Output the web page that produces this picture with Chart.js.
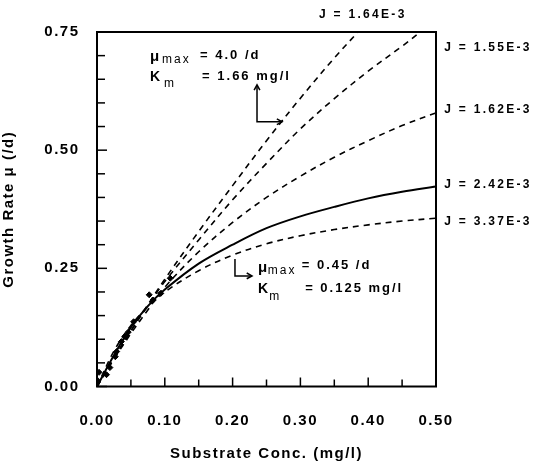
<!DOCTYPE html>
<html>
<head>
<meta charset="utf-8">
<script src="https://cdn.jsdelivr.net/npm/chart.js@4"></script>
<style>
  html, body { margin: 0; padding: 0; background: #fff; }
  canvas { display: block; }
</style>
</head>
<body>
<canvas id="myChart" width="534" height="467"></canvas>
<script>
// Substrate conc. (mg/l) sample points along each curve
const sFull = [0, 0.025, 0.05, 0.075, 0.1, 0.15, 0.2, 0.25, 0.3, 0.35, 0.4, 0.45, 0.5];
const sJ164 = [0, 0.025, 0.05, 0.075, 0.1, 0.15, 0.2, 0.25, 0.3, 0.35, 0.385];
const sJ155 = [0, 0.025, 0.05, 0.075, 0.1, 0.15, 0.2, 0.25, 0.3, 0.35, 0.4, 0.45, 0.477];

// Growth rate (/d) for each curve
const muJ164 = [0, 0.059, 0.117, 0.173, 0.227, 0.328, 0.425, 0.52, 0.61, 0.695, 0.75];
const muJ155 = [0, 0.061, 0.118, 0.171, 0.222, 0.31, 0.395, 0.472, 0.545, 0.609, 0.667, 0.72, 0.75];
const muJ162 = [0, 0.058, 0.112, 0.162, 0.21, 0.285, 0.347, 0.40, 0.445, 0.485, 0.52, 0.552, 0.579];
const muJ242 = [0, 0.066, 0.125, 0.17, 0.205, 0.26, 0.30, 0.335, 0.36, 0.38, 0.398, 0.412, 0.423];
const muJ337 = [0, 0.075, 0.129, 0.169, 0.2, 0.245, 0.278, 0.302, 0.319, 0.332, 0.342, 0.35, 0.356];

// measured points
const obsS  = [0.0, 0.003, 0.014, 0.019, 0.027, 0.029, 0.036, 0.041, 0.046, 0.054, 0.077, 0.083, 0.094, 0.108];
const obsMu = [0.014, 0.03, 0.025, 0.04, 0.063, 0.074, 0.095, 0.106, 0.115, 0.137, 0.194, 0.183, 0.197, 0.229];

// tick labels
const xLabelValues = [0, 0.1, 0.2, 0.3, 0.4, 0.5];
const yLabelValues = [0, 0.25, 0.5, 0.75];

// curve labels and where they sit (data units)
const curveLabels = ['J = 1.64E-3', 'J = 1.55E-3', 'J = 1.62E-3', 'J = 2.42E-3', 'J = 3.37E-3'];
const curveLabelS = [0.392, 0.512, 0.512, 0.512, 0.512];
const curveLabelMu = [0.786, 0.716, 0.585, 0.426, 0.348];

const FONT = '"Liberation Sans", Arial, sans-serif';

function pts(xs, ys) {
    return xs.map((x, i) => ({ x: x, y: ys[i] }));
}

function hasValue(list, v) {
    return list.some(t => Math.abs(t - v) < 1e-6);
}

function curve(xs, ys, dashed) {
    return {
        data: pts(xs, ys),
        showLine: true,
        borderColor: '#000',
        borderWidth: dashed ? 1.6 : 2,
        borderDash: dashed ? [6, 5] : [],
        pointRadius: 0,
        tension: 0.35,
        fill: false
    };
}

// annotation text in data units
const notes = [
    { t: 'μ', s: 0.078, m: 0.697, size: 15 },
    { t: 'max', s: 0.096, m: 0.691, size: 12 },
    { t: '= 4.0 /d', s: 0.152, m: 0.701, size: 13 },
    { t: 'K', s: 0.078, m: 0.655, size: 14 },
    { t: 'm', s: 0.099, m: 0.640, size: 12 },
    { t: '= 1.66 mg/l', s: 0.155, m: 0.655, size: 13 },
    { t: 'μ', s: 0.2375, m: 0.251, size: 15 },
    { t: 'max', s: 0.252, m: 0.245, size: 12 },
    { t: '= 0.45 /d', s: 0.302, m: 0.257, size: 13 },
    { t: 'K', s: 0.2375, m: 0.206, size: 14 },
    { t: 'm', s: 0.254, m: 0.189, size: 12 },
    { t: '= 0.125 mg/l', s: 0.307, m: 0.208, size: 13 }
];

// arrow paths (data units) and whether each end has a head
const arrows = [
    { path: [[0.273, 0.56], [0.236, 0.56], [0.236, 0.638]], startHead: true },
    { path: [[0.2035, 0.27], [0.2035, 0.234], [0.2286, 0.234]], startHead: false }
];

function drawHead(ctx, a, b) {
    let ang = Math.atan2(b[1] - a[1], b[0] - a[0]);
    ctx.beginPath();
    ctx.moveTo(b[0] - 6 * Math.cos(ang - 0.5), b[1] - 6 * Math.sin(ang - 0.5));
    ctx.lineTo(b[0], b[1]);
    ctx.lineTo(b[0] - 6 * Math.cos(ang + 0.5), b[1] - 6 * Math.sin(ang + 0.5));
    ctx.stroke();
}

const spacingPlugin = {
    id: 'spacing',
    beforeLayout(chart) { chart.ctx.letterSpacing = '1.5px'; },
    beforeDraw(chart) { chart.ctx.letterSpacing = '1.5px'; }
};

const framePlugin = {
    id: 'frame',
    afterDatasetsDraw(chart) {
        let ctx = chart.ctx;
        let xs = chart.scales.x;
        let ys = chart.scales.y;
        let area = chart.chartArea;

        ctx.save();
        ctx.strokeStyle = '#000';
        ctx.fillStyle = '#000';

        // inward ticks
        ctx.lineWidth = 1.5;
        ys.ticks.forEach(t => {
            let py = ys.getPixelForValue(t.value);
            let len = hasValue(yLabelValues, t.value) ? 10 : 8;
            ctx.beginPath();
            ctx.moveTo(area.left, py);
            ctx.lineTo(area.left + len, py);
            ctx.stroke();
        });
        xs.ticks.forEach(t => {
            let px = xs.getPixelForValue(t.value);
            let len = hasValue(xLabelValues, t.value) ? 9 : 7;
            ctx.beginPath();
            ctx.moveTo(px, area.bottom);
            ctx.lineTo(px, area.bottom - len);
            ctx.stroke();
        });

        // frame
        ctx.lineWidth = 2;
        ctx.strokeRect(area.left, area.top, area.right - area.left, area.bottom - area.top);

        // arrows
        ctx.lineWidth = 1.5;
        arrows.forEach(arr => {
            let p = arr.path.map(q => [xs.getPixelForValue(q[0]), ys.getPixelForValue(q[1])]);
            ctx.beginPath();
            ctx.moveTo(p[0][0], p[0][1]);
            for (let i = 1; i < p.length; i++) ctx.lineTo(p[i][0], p[i][1]);
            ctx.stroke();
            drawHead(ctx, p[p.length - 2], p[p.length - 1]);
            if (arr.startHead) drawHead(ctx, p[1], p[0]);
        });

        // annotation text
        ctx.textBaseline = 'middle';
        ctx.textAlign = 'left';
        ctx.letterSpacing = '2px';
        notes.forEach(n => {
            ctx.font = (n.t === 'max' || n.t === 'm' ? 'normal ' : 'bold ') + n.size + 'px ' + FONT;
            ctx.fillText(n.t, xs.getPixelForValue(n.s), ys.getPixelForValue(n.m));
        });

        // curve labels
        ctx.font = 'bold 12px ' + FONT;
        ctx.letterSpacing = '2.3px';
        curveLabels.forEach((txt, i) => {
            ctx.textAlign = i === 0 ? 'center' : 'left';
            ctx.fillText(txt, xs.getPixelForValue(curveLabelS[i]), ys.getPixelForValue(curveLabelMu[i]));
        });
        ctx.restore();
    }
};

let ctx = document.getElementById('myChart').getContext('2d');
new Chart(ctx, {
    type: 'scatter',
    data: {
        datasets: [
            curve(sJ164, muJ164, true),
            curve(sJ155, muJ155, true),
            curve(sFull, muJ162, true),
            curve(sFull, muJ242, false),
            curve(sFull, muJ337, true),
            {
                data: pts(obsS, obsMu),
                showLine: false,
                pointStyle: 'rectRot',
                pointRadius: 3,
                backgroundColor: '#000',
                borderColor: '#000',
                borderWidth: 1
            }
        ]
    },
    options: {
        responsive: false,
        animation: false,
        devicePixelRatio: 1,
        layout: { padding: { left: 0, right: 98, top: 32, bottom: 0 } },
        plugins: {
            legend: { display: false },
            tooltip: { enabled: false }
        },
        scales: {
            x: {
                type: 'linear',
                min: 0,
                max: 0.5,
                afterFit(scale) { scale.height = 80.5; },
                grid: { display: false },
                border: { display: false },
                ticks: {
                    stepSize: 0.05,
                    padding: 17,
                    color: '#000',
                    font: { family: FONT, size: 15, weight: 'bold' },
                    maxRotation: 0,
                    autoSkip: false,
                    callback: v => hasValue(xLabelValues, v) ? v.toFixed(2) : ''
                },
                title: {
                    display: true,
                    text: 'Substrate Conc. (mg/l)',
                    color: '#000',
                    font: { family: FONT, size: 15, weight: 'bold' },
                    padding: { top: 0, bottom: 4 }
                }
            },
            y: {
                type: 'linear',
                min: 0,
                max: 0.75,
                afterFit(scale) { scale.width = 97; },
                grid: { display: false },
                border: { display: false },
                ticks: {
                    stepSize: 0.05,
                    padding: 9.5,
                    color: '#000',
                    font: { family: FONT, size: 15, weight: 'bold' },
                    autoSkip: false,
                    callback: v => hasValue(yLabelValues, v) ? v.toFixed(2) : ''
                },
                title: {
                    display: true,
                    text: 'Growth Rate μ (/d)',
                    color: '#000',
                    font: { family: FONT, size: 15, weight: 'bold' },
                    padding: { top: 0, bottom: 0 }
                }
            }
        }
    },
    plugins: [spacingPlugin, framePlugin]
});
</script>
</body>
</html>
